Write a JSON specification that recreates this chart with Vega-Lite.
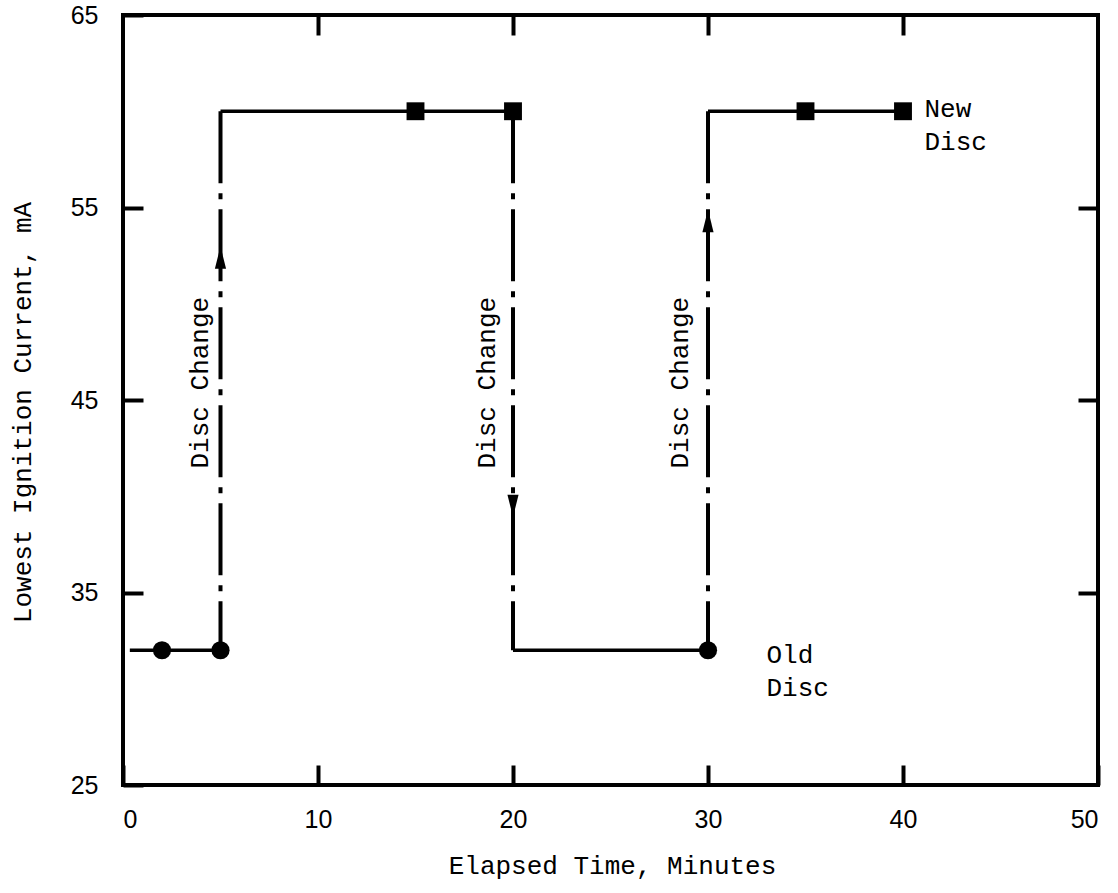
{
  "$schema": "https://vega.github.io/schema/vega-lite/v6.json",
  "width": 975,
  "height": 770,
  "autosize": "none",
  "padding": {"left": 123, "top": 15, "right": 20, "bottom": 108},
  "background": "white",
  "config": {
    "view": {"stroke": "black", "strokeWidth": 4},
    "font": "Liberation Mono"
  },
  "datasets": {
    "segments": [
      {"x": 0.35, "y": 32, "x2": 5, "y2": 32, "style": "solid"},
      {"x": 5, "y": 60, "x2": 5, "y2": 32, "style": "dashdot"},
      {"x": 5, "y": 60, "x2": 15, "y2": 60, "style": "solid"},
      {"x": 15, "y": 60, "x2": 20, "y2": 60, "style": "solid"},
      {"x": 20, "y": 60, "x2": 20, "y2": 32, "style": "dashdot"},
      {"x": 20, "y": 32, "x2": 30, "y2": 32, "style": "solid"},
      {"x": 30, "y": 60, "x2": 30, "y2": 32, "style": "dashdot"},
      {"x": 30, "y": 60, "x2": 35, "y2": 60, "style": "solid"},
      {"x": 35, "y": 60, "x2": 40, "y2": 60, "style": "solid"}
    ],
    "points": [
      {"x": 2, "y": 32, "disc": "old"},
      {"x": 5, "y": 32, "disc": "old"},
      {"x": 30, "y": 32, "disc": "old"},
      {"x": 15, "y": 60, "disc": "new"},
      {"x": 20, "y": 60, "disc": "new"},
      {"x": 35, "y": 60, "disc": "new"},
      {"x": 40, "y": 60, "disc": "new"}
    ],
    "arrows": [
      {"x": 5, "y": 52.4, "dir": "up"},
      {"x": 20, "y": 39.5, "dir": "down"},
      {"x": 30, "y": 54.3, "dir": "up"}
    ],
    "labels": [
      {"x": 3.95, "y": 45.9, "label": "Disc Change"},
      {"x": 18.67, "y": 45.9, "label": "Disc Change"},
      {"x": 28.56, "y": 45.9, "label": "Disc Change"}
    ],
    "notes": [
      {"x": 33.0, "y": 31.75, "label": ["Old", "Disc"]},
      {"x": 41.1, "y": 60.1, "label": ["New", "Disc"]}
    ]
  },
  "layer": [
    {
      "layer": [
        {
          "data": {"name": "segments"},
          "transform": [{"filter": "datum.style === 'solid'"}],
          "mark": {"type": "rule", "color": "black", "strokeWidth": 3.5},
          "encoding": {
            "x": {
              "field": "x", "type": "quantitative",
              "scale": {"domain": [0, 50], "nice": false, "zero": false},
              "axis": {
                "values": [0, 10, 20, 30, 40, 50],
                "domain": false, "grid": false, "ticks": true,
                "tickSize": -20, "tickWidth": 4, "tickColor": "black",
                "labelFont": "Liberation Sans", "labelFontSize": 25, "labelColor": "black",
                "labelPadding": 42,
                "title": "Elapsed Time, Minutes",
                "titleFont": "Liberation Mono", "titleFontSize": 26, "titleFontWeight": "normal",
                "titleColor": "black", "titleX": 489, "titleY": 80, "titleBaseline": "middle"
              }
            },
            "x2": {"field": "x2"},
            "y": {
              "field": "y", "type": "quantitative",
              "scale": {"domain": [25, 65], "nice": false, "zero": false},
              "axis": {
                "values": [25, 35, 45, 55, 65],
                "domain": false, "grid": false, "ticks": true,
                "tickSize": -20, "tickWidth": 4, "tickColor": "black",
                "labelFont": "Liberation Sans", "labelFontSize": 25, "labelColor": "black",
                "labelPadding": 45,
                "title": "Lowest Ignition Current, mA",
                "titleFont": "Liberation Mono", "titleFontSize": 26, "titleFontWeight": "normal",
                "titleColor": "black", "titleX": -101, "titleY": 397, "titleBaseline": "middle", "titleAlign": "center"
              }
            },
            "y2": {"field": "y2"}
          }
        },
        {
          "data": {"name": "segments"},
          "transform": [{"filter": "datum.style === 'dashdot'"}],
          "mark": {"type": "rule", "color": "black", "strokeWidth": 4, "strokeDash": [72, 10, 6, 10]},
          "encoding": {
            "x": {"field": "x", "type": "quantitative"},
            "x2": {"field": "x2"},
            "y": {"field": "y", "type": "quantitative"},
            "y2": {"field": "y2"}
          }
        },
        {
          "data": {"name": "arrows"},
          "transform": [{"filter": "datum.dir === 'up'"}],
          "mark": {"type": "point", "filled": true, "color": "black", "opacity": 1, "size": 500, "shape": "M-0.5,1 L0,-1 L0.5,1 Z"},
          "encoding": {
            "x": {"field": "x", "type": "quantitative"},
            "y": {"field": "y", "type": "quantitative"}
          }
        },
        {
          "data": {"name": "arrows"},
          "transform": [{"filter": "datum.dir === 'down'"}],
          "mark": {"type": "point", "filled": true, "color": "black", "opacity": 1, "size": 500, "shape": "M-0.5,-1 L0,1 L0.5,-1 Z"},
          "encoding": {
            "x": {"field": "x", "type": "quantitative"},
            "y": {"field": "y", "type": "quantitative"}
          }
        },
        {
          "data": {"name": "points"},
          "transform": [{"filter": "datum.disc === 'old'"}],
          "mark": {"type": "point", "filled": true, "color": "black", "opacity": 1, "shape": "circle", "size": 330},
          "encoding": {
            "x": {"field": "x", "type": "quantitative"},
            "y": {"field": "y", "type": "quantitative"}
          }
        },
        {
          "data": {"name": "points"},
          "transform": [{"filter": "datum.disc === 'new'"}],
          "mark": {"type": "point", "filled": true, "color": "black", "opacity": 1, "shape": "square", "size": 320},
          "encoding": {
            "x": {"field": "x", "type": "quantitative"},
            "y": {"field": "y", "type": "quantitative"}
          }
        },
        {
          "data": {"name": "labels"},
          "mark": {"type": "text", "angle": 270, "font": "Liberation Mono", "fontSize": 26, "color": "black", "align": "center", "baseline": "middle"},
          "encoding": {
            "x": {"field": "x", "type": "quantitative"},
            "y": {"field": "y", "type": "quantitative"},
            "text": {"field": "label"}
          }
        },
        {
          "data": {"name": "notes"},
          "mark": {"type": "text", "font": "Liberation Mono", "fontSize": 26, "color": "black", "align": "left", "baseline": "middle", "lineHeight": 33},
          "encoding": {
            "x": {"field": "x", "type": "quantitative"},
            "y": {"field": "y", "type": "quantitative"},
            "text": {"field": "label"}
          }
        }
      ]
    },
    {
      "data": {"values": [{"x": 0, "y": 25}]},
      "mark": {"type": "point", "opacity": 0},
      "encoding": {
        "x": {
          "field": "x", "type": "quantitative",
          "scale": {"domain": [0, 50], "nice": false, "zero": false},
          "axis": {"orient": "top", "values": [10, 20, 30, 40], "labels": false, "domain": false, "grid": false,
                   "tickSize": -20, "tickWidth": 4, "tickColor": "black", "title": null}
        },
        "y": {
          "field": "y", "type": "quantitative",
          "scale": {"domain": [25, 65], "nice": false, "zero": false},
          "axis": {"orient": "right", "values": [35, 45, 55], "labels": false, "domain": false, "grid": false,
                   "tickSize": -20, "tickWidth": 4, "tickColor": "black", "title": null}
        }
      }
    }
  ],
  "resolve": {"scale": {"x": "independent", "y": "independent"}, "axis": {"x": "independent", "y": "independent"}}
}
